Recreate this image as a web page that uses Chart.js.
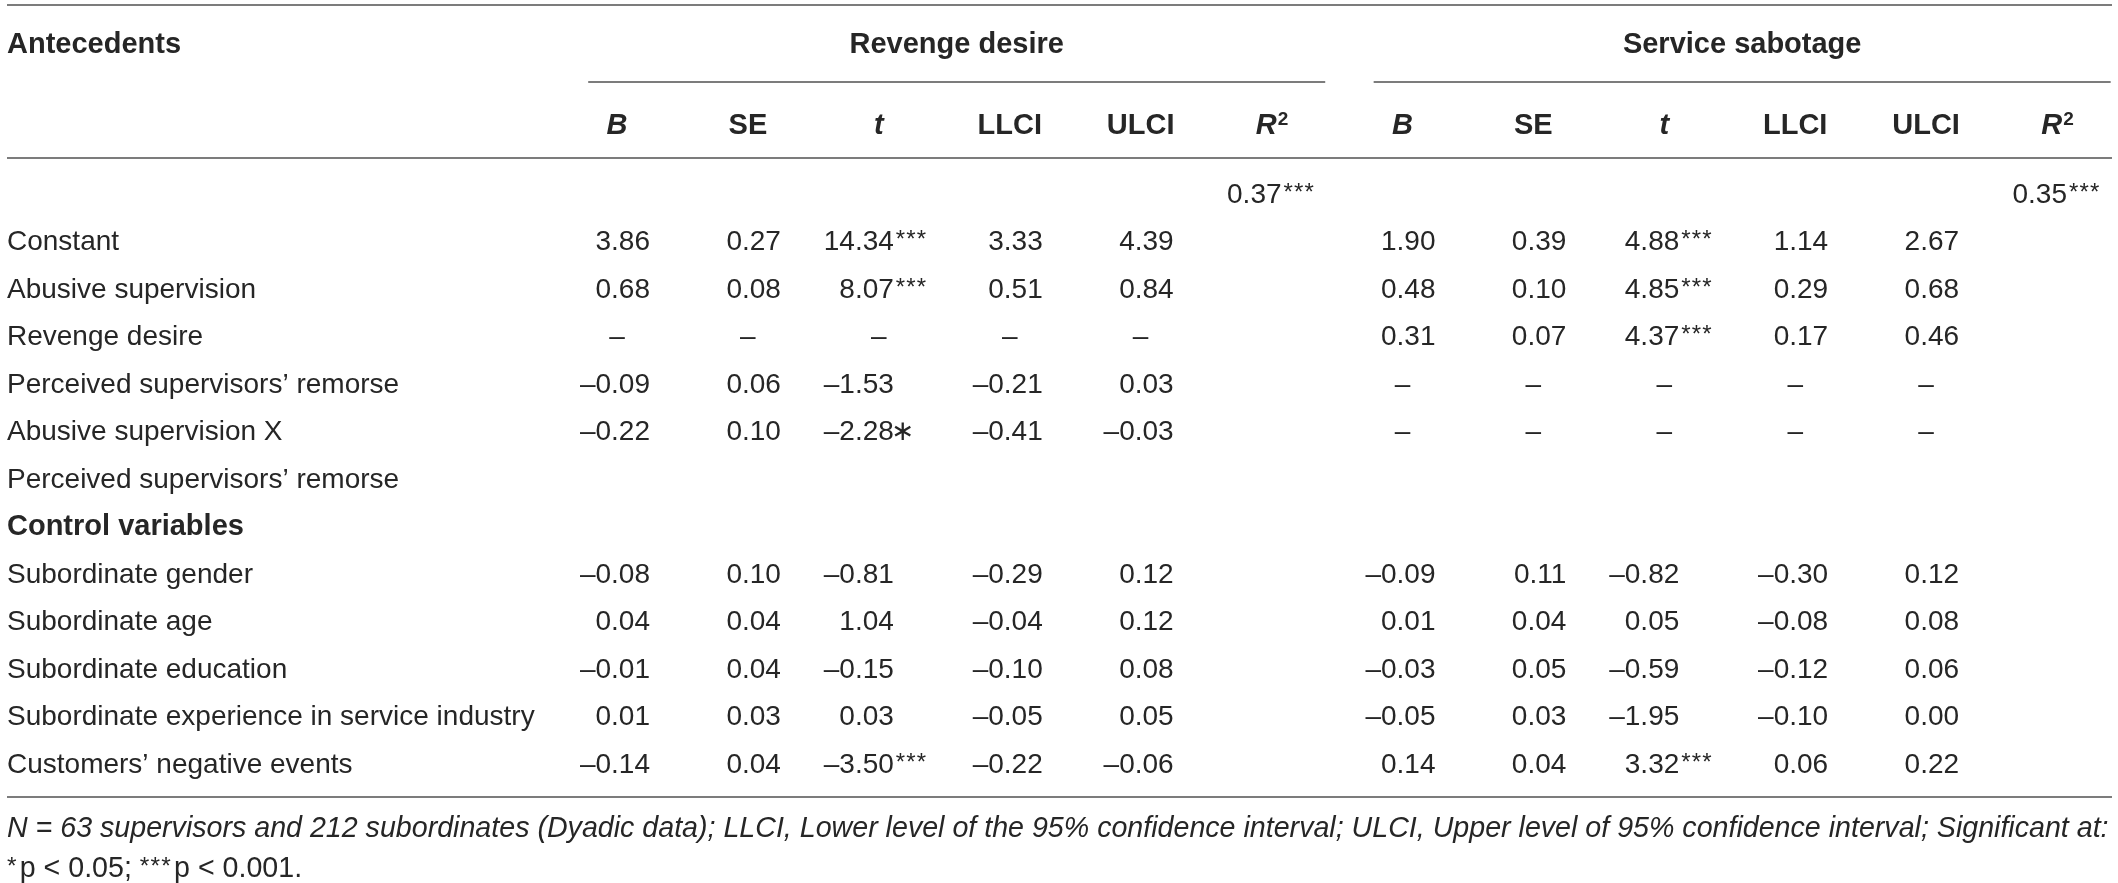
<!DOCTYPE html>
<html>
<head>
<meta charset="utf-8">
<script src="https://cdn.jsdelivr.net/npm/chart.js@4.4.1/dist/chart.umd.min.js"></script>
<style>
html,body{margin:0;padding:0;background:#fff;}
#wrap{width:2118px;height:883px;}
</style>
</head>
<body>
<div id="wrap"><canvas id="c" width="2118" height="883"></canvas></div>
<script>
// ---------- DATA ----------
const groups = ['Revenge desire', 'Service sabotage'];
const statCols = ['B', 'SE', 't', 'LLCI', 'ULCI', 'R2'];
const stubHeader = 'Antecedents';
const rowLabels = ['', 'Constant', 'Abusive supervision', 'Revenge desire',
  'Perceived supervisors\u2019 remorse', 'Abusive supervision X',
  'Perceived supervisors\u2019 remorse', 'Control variables',
  'Subordinate gender', 'Subordinate age', 'Subordinate education',
  'Subordinate experience in service industry', 'Customers\u2019 negative events'];
const boldRows = ['Control variables'];
// rows Constant..Customers' negative events ; null = "–", '' = empty cell
const rdB    = [3.86, 0.68, null, -0.09, -0.22, '', '', -0.08, 0.04, -0.01, 0.01, -0.14];
const rdSE   = [0.27, 0.08, null, 0.06, 0.10, '', '', 0.10, 0.04, 0.04, 0.03, 0.04];
const rdT    = [14.34, 8.07, null, -1.53, -2.28, '', '', -0.81, 1.04, -0.15, 0.03, -3.50];
const rdTsig = ['***', '***', '', '', '\u2217', '', '', '', '', '', '', '***'];
const rdLL   = [3.33, 0.51, null, -0.21, -0.41, '', '', -0.29, -0.04, -0.10, -0.05, -0.22];
const rdUL   = [4.39, 0.84, null, 0.03, -0.03, '', '', 0.12, 0.12, 0.08, 0.05, -0.06];
const rdR2   = [0.37, '***'];
const ssB    = [1.90, 0.48, 0.31, null, null, '', '', -0.09, 0.01, -0.03, -0.05, 0.14];
const ssSE   = [0.39, 0.10, 0.07, null, null, '', '', 0.11, 0.04, 0.05, 0.03, 0.04];
const ssT    = [4.88, 4.85, 4.37, null, null, '', '', -0.82, 0.05, -0.59, -1.95, 3.32];
const ssTsig = ['***', '***', '***', '', '', '', '', '', '', '', '', '***'];
const ssLL   = [1.14, 0.29, 0.17, null, null, '', '', -0.30, -0.08, -0.12, -0.10, 0.06];
const ssUL   = [2.67, 0.68, 0.46, null, null, '', '', 0.12, 0.08, 0.06, 0.00, 0.22];
const ssR2   = [0.35, '***'];
const footLine1 = 'N = 63 supervisors and 212 subordinates (Dyadic data); LLCI, Lower level of the 95% confidence interval; ULCI, Upper level of 95% confidence interval; Significant at:';
const footLine2 = [['*', 'p < 0.05; '], ['***', 'p < 0.001.']];

const groupData = [
  { stats: [rdB, rdSE, rdT, rdLL, rdUL], sig: rdTsig, r2: rdR2 },
  { stats: [ssB, ssSE, ssT, ssLL, ssUL], sig: ssTsig, r2: ssR2 }
];
const colLabels = [];
groups.forEach(g => statCols.forEach(s => colLabels.push(s)));

// ---------- STYLE ----------
const S = {
  fam: '"Liberation Sans", Arial, Helvetica, sans-serif',
  ink: '#262626', rule: '#7c7c7c', ruleW: 2,
  body: 28, head: 29, starSize: 24, starStep: 10.5,
  left: 7,
  numOff: 33, tOff: 15,
  head1: 125.75, under: 86.75, head2: 44.75, headRule: 10.75, topRule: 163.75,
  botRule: 10.75, foot1: 40.75, foot2: 80.75
};

function font(size, bold, italic) {
  return (italic ? 'italic ' : '') + (bold ? 'bold ' : '') + size + 'px ' + S.fam;
}
function fmt(v) {
  if (v === null) return '\u2013';
  return (v < 0 ? '\u2013' : '') + Math.abs(v).toFixed(2);
}

const tablePlugin = {
  id: 'tablePlugin',
  afterDraw(chart) {
    const ctx = chart.ctx, xs = chart.scales.x, ys = chart.scales.y, area = chart.chartArea;
    const colW = xs.getPixelForValue(1) - xs.getPixelForValue(0);
    const tableL = S.left;
    const tableR = xs.getPixelForValue(colLabels.length - 1) + 0.42 * colW;
    ctx.save();
    ctx.fillStyle = S.ink;
    ctx.textBaseline = 'alphabetic';

    const text = (s, x, yc, size, bold, italic, align) => {
      ctx.font = font(size, bold, italic);
      ctx.textAlign = align || 'left';
      ctx.fillText(s, x, yc + 0.358 * size);
      return ctx.measureText(s).width;
    };
    const measure = (s, size, bold, italic) => { ctx.font = font(size, bold, italic); return ctx.measureText(s).width; };
    const starsW = (st) => st === '\u2217' ? measure(st, S.body) + 2 : (st.length ? 3 + st.length * S.starStep : 0);
    const drawStars = (st, x, yc, size) => {
      size = size || S.body;
      if (!st) return;
      if (st === '\u2217') { text(st, x - 3, yc, size); return; }
      const ss = S.starSize * size / S.body;
      ctx.font = font(ss);
      ctx.textAlign = 'left';
      // star top aligned with cap/digit top
      const base = yc + 0.358 * size - 0.716 * size + 0.716 * ss;
      for (let k = 0; k < st.length; k++) ctx.fillText('*', x + 2 + k * S.starStep * size / S.body, base);
    };
    const hline = (x0, x1, y) => {
      ctx.save(); ctx.strokeStyle = S.rule; ctx.lineWidth = S.ruleW;
      ctx.beginPath(); ctx.moveTo(x0, y); ctx.lineTo(x1, y); ctx.stroke(); ctx.restore();
    };

    // rules
    hline(tableL, tableR, area.top - S.topRule);
    hline(tableL, tableR, area.top - S.headRule);
    hline(tableL, tableR, area.bottom + S.botRule);

    // header row 1
    text(stubHeader, tableL, area.top - S.head1, S.head, true, false, 'left');
    groups.forEach((g, gi) => {
      const c0 = xs.getPixelForValue(gi * statCols.length);
      const c1 = xs.getPixelForValue(gi * statCols.length + statCols.length - 1);
      const u0 = c0 - 0.22 * colW, u1 = c1 + 0.41 * colW;
      text(g, (u0 + u1) / 2, area.top - S.head1, S.head, true, false, 'center');
      hline(u0, u1, area.top - S.under);
    });

    // header row 2
    const yh2 = area.top - S.head2;
    colLabels.forEach((lab, ci) => {
      const x = xs.getPixelForValue(ci);
      if (lab === 'R2') {
        const wR = measure('R', S.head, true, true);
        const w2 = measure('2', 19, true, false);
        const x0 = x - (wR + w2) / 2;
        text('R', x0, yh2, S.head, true, true, 'left');
        ctx.font = font(19, true, false); ctx.textAlign = 'left';
        ctx.fillText('2', x0 + wR + 1, yh2 + 0.358 * S.head - 9);
      } else {
        const it = (lab === 'B' || lab === 't');
        text(lab, x, yh2, S.head, true, it, 'center');
      }
    });

    // row labels
    rowLabels.forEach((lab, ri) => {
      if (!lab) return;
      const y = ys.getPixelForValue(ri);
      text(lab, tableL, y, boldRows.includes(lab) ? S.head : S.body, boldRows.includes(lab), false, 'left');
    });

    // cells
    groupData.forEach((gd, gi) => {
      gd.stats.forEach((arr, si) => {
        const x = xs.getPixelForValue(gi * statCols.length + si);
        const off = statCols[si] === 't' ? S.tOff : S.numOff;
        arr.forEach((v, r) => {
          if (v === '') return;
          const y = ys.getPixelForValue(r + 1);
          if (v === null) { text('\u2013', x, y, S.body, false, false, 'center'); return; }
          text(fmt(v), x + off, y, S.body, false, false, 'right');
          if (statCols[si] === 't') drawStars(gd.sig[r], x + off, y);
        });
      });
      // R2 value
      const xr = xs.getPixelForValue(gi * statCols.length + statCols.length - 1);
      const y0 = ys.getPixelForValue(0);
      const s = fmt(gd.r2[0]);
      const w = measure(s, S.body) + starsW(gd.r2[1]);
      const x0 = xr - w / 2;
      const wn = text(s, x0, y0, S.body, false, false, 'left');
      drawStars(gd.r2[1], x0 + wn, y0);
    });

    // footnotes
    const fw = tableR - tableL;
    let fs = S.body;
    const m = measure(footLine1, fs, false, true);
    fs = fs * (fw - 2) / m;
    text(footLine1, tableL, area.bottom + S.foot1, fs, false, true, 'left');
    let fx = tableL;
    const yf2 = area.bottom + S.foot2;
    footLine2.forEach(([st, t]) => {
      drawStars(st, fx - 2, yf2, fs);
      fx += st.length * S.starStep * fs / S.body + 2;
      fx += text(t, fx, yf2, fs, false, false, 'left');
    });
    ctx.restore();
  }
};

new Chart(document.getElementById('c'), {
  type: 'scatter',
  data: { datasets: [] },
  options: {
    responsive: false,
    animation: false,
    devicePixelRatio: 1,
    layout: { padding: { left: 617, right: 61, top: 168.75, bottom: 96.75 } },
    scales: {
      x: { type: 'category', labels: colLabels, offset: false, display: false },
      y: { type: 'category', labels: rowLabels, offset: true, display: false }
    },
    plugins: { legend: { display: false }, tooltip: { enabled: false } }
  },
  plugins: [tablePlugin]
});
</script>
</body>
</html>
